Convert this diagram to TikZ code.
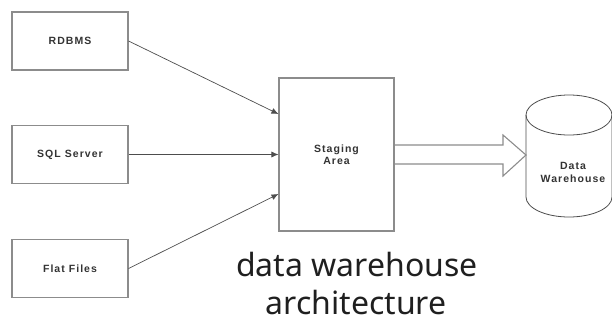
\documentclass[tikz,border=0pt]{standalone}
\usepackage{fontspec}
\setmainfont{Liberation Sans}
\newfontfamily\titlefont{Noto Sans}
\newfontfamily\boxfont[LetterSpace=10]{Liberation Sans}
\usetikzlibrary{arrows.meta}
\definecolor{boxline}{HTML}{8C8C8C}
\definecolor{inkgray}{HTML}{333333}
\definecolor{wireline}{HTML}{4D4D4D}
\tikzset{
  srcbox/.style={draw=boxline, line width=1.1pt, minimum width=116pt, minimum height=58pt,
    inner sep=0pt, font=\boxfont\bfseries\fontsize{10.5}{12}\selectfont, text=inkgray, align=center},
  feed/.style={draw=wireline, line width=0.7pt, -{Latex[length=7pt,width=6pt]}},
  hollow/.style={draw=boxline, line width=1.1pt, line join=miter},
  drum/.style={draw=wireline, line width=0.8pt},
  caption/.style={font=\titlefont\fontsize{32}{43}\selectfont, text=black!88, inner sep=0pt}
}
\begin{document}
\begin{tikzpicture}[x=1pt,y=-1pt]
  \useasboundingbox (0,0) rectangle (612,322);

  % source systems
  \node[srcbox] (rdbms) at (70,41) {RDBMS};
  \node[srcbox] (sql) at (70,154.5) {SQL Server};
  \node[srcbox] (flat) at (70,268.5) {Flat Files};

  % staging area
  \node[srcbox, minimum width=115pt, minimum height=153pt] (staging) at (336.5,154.5) {Staging\\Area};

  % feeds into the staging area
  \draw[feed] (rdbms.east) -- ([yshift=40.5pt]staging.west);
  \draw[feed] (sql.east) -- (staging.west);
  \draw[feed] (flat.east) -- ([yshift=-39.5pt]staging.west);

  % data warehouse drum
  \coordinate (dwtop) at (569,115);
  \coordinate (dwbot) at (569,197);
  \draw[drum, fill=white] (526,115) -- (526,197) arc[start angle=180, end angle=360, x radius=43pt, y radius=20pt]
        -- (612,115);
  \draw[drum] (dwtop) ellipse[x radius=43pt, y radius=20pt];
  \node[font=\boxfont\bfseries\fontsize{10.5}{13}\selectfont, text=inkgray, align=center] (dw) at (573,172) {Data\\Warehouse};
  \coordinate (dwin) at (526,155);

  % bulk load arrow from staging to warehouse
  \draw[hollow] (staging.east |- 0,145) -- (503,145) -- (503,135) -- (dwin) -- (503,176) -- (503,164)
        -- (staging.east |- 0,164);

  % caption
  \node[caption, anchor=base] (title1) at (357,276) {data warehouse};
  \node[caption, anchor=base] (title2) at (356,314) {architecture};
\end{tikzpicture}
\end{document}
